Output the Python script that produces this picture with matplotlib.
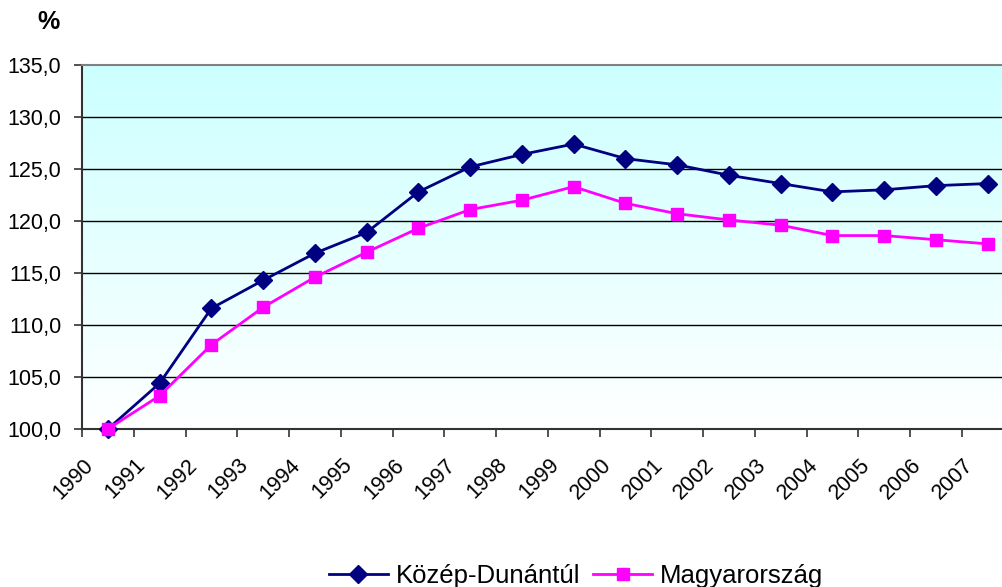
import matplotlib
matplotlib.use("Agg")
import matplotlib.pyplot as plt
import numpy as np
from matplotlib.colors import LinearSegmentedColormap
from matplotlib.ticker import FuncFormatter, FixedLocator
import matplotlib.transforms as mtransforms

plt.rcParams['font.family'] = ['Liberation Sans', 'DejaVu Sans']

years = ['1990', '1991', '1992', '1993', '1994', '1995', '1996', '1997', '1998',
         '1999', '2000', '2001', '2002', '2003', '2004', '2005', '2006', '2007']
kozep_dunantul = [100.0, 104.4, 111.6, 114.3, 116.9, 118.9, 122.8, 125.2, 126.4,
                  127.4, 126.0, 125.4, 124.4, 123.6, 122.8, 123.0, 123.4, 123.6]
magyarorszag = [100.0, 103.2, 108.1, 111.7, 114.6, 117.0, 119.3, 121.1, 122.0,
                123.3, 121.7, 120.7, 120.1, 119.6, 118.6, 118.6, 118.2, 117.8]
series_names = ['Közép-Dunántúl', 'Magyarország']
y_ticks = [100, 105, 110, 115, 120, 125, 130, 135]

W, H = 1002, 587
fig = plt.figure(figsize=(W / 100, H / 100), dpi=100)
left, right, top, bottom = 82, 1013.5, 65, 429
ax = fig.add_axes([left / W, 1 - bottom / H, (right - left) / W, (bottom - top) / H])

x = np.arange(len(years))
ax.set_xlim(-0.5, len(years) - 0.5)
ax.set_ylim(100, 135)

# gradient background
cmap = LinearSegmentedColormap.from_list('bg', ['#FFFFFF', '#CCFFFF'])
grad = np.linspace(0, 1, 256).reshape(-1, 1)
ax.imshow(grad, cmap=cmap, aspect='auto', origin='lower',
          extent=[-0.5, len(years) - 0.5, 100, 135], zorder=0)

for yv in y_ticks[1:-1]:
    ax.axhline(yv, color='black', lw=1.0, zorder=1)

ax.plot(x, kozep_dunantul, color='#000080', lw=2, marker='D', ms=9,
        markerfacecolor='#000080', markeredgecolor='#000080', label=series_names[0],
        zorder=3, clip_on=False)
ax.plot(x, magyarorszag, color='#FF00FF', lw=2, marker='s', ms=9,
        markerfacecolor='#FF00FF', markeredgecolor='#FF00FF', label=series_names[1],
        zorder=4, clip_on=False)

# y axis
ax.set_yticks(y_ticks)
ax.yaxis.set_major_formatter(FuncFormatter(lambda v, p: f"{v:.1f}".replace('.', ',')))
ax.tick_params(axis='y', direction='out', length=6, width=1.2, color='#333333',
               labelsize=15.5, pad=9)

# x axis: ticks at category boundaries, labels at centers
ax.xaxis.set_major_locator(FixedLocator(np.arange(-0.5, len(years), 1.0)))
ax.xaxis.set_major_formatter(FuncFormatter(lambda v, p: ''))
ax.xaxis.set_minor_locator(FixedLocator(x))
ax.set_xticklabels(years, minor=True)
ax.tick_params(axis='x', which='major', direction='out', length=6, width=1.2, color='#333333')
ax.tick_params(axis='x', which='minor', length=0, labelsize=15.5, pad=4)
offset = mtransforms.ScaledTranslation(-25 / 100, -20 / 100, fig.dpi_scale_trans)
for lbl in ax.get_xticklabels(minor=True):
    lbl.set_rotation(45)
    lbl.set_ha('right')
    lbl.set_va('top')
    lbl.set_rotation_mode('anchor')
    lbl.set_transform(lbl.get_transform() + offset)

for s in ['left', 'bottom']:
    ax.spines[s].set_color('#333333')
    ax.spines[s].set_linewidth(1.5)
ax.spines['top'].set_color('#808080')
ax.spines['top'].set_linewidth(1.5)
ax.spines['right'].set_visible(False)

fig.text(48 / W, 1 - 22 / H, '%', fontsize=18, fontweight='bold', ha='center', va='center')

fig.legend(loc='center', bbox_to_anchor=(576 / W, 1 - 576 / H), ncol=2, frameon=False,
           fontsize=18.5, handlelength=2.3, handletextpad=0.3, columnspacing=0.5,
           borderaxespad=0, borderpad=0)

fig.savefig('out.png', dpi=100)
